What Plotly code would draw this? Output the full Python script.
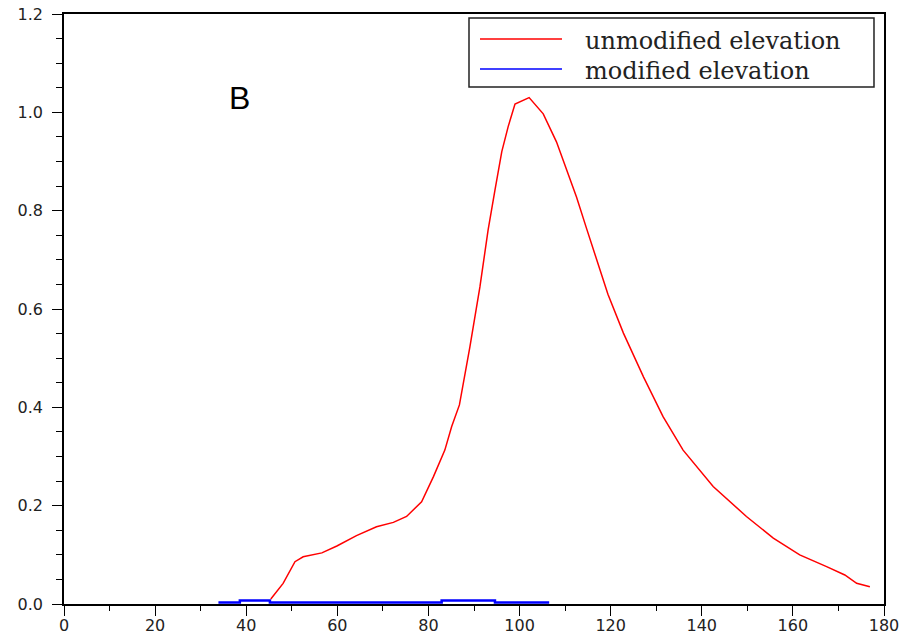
import plotly.graph_objects as go

# Red curve: unmodified elevation
red_x = [45.4, 48.1, 50.7, 52.5, 56.6, 59.9, 64.2, 68.6, 72.3, 75.2, 78.5, 81.1,
         83.6, 85.1, 86.8, 89.1, 91.3, 93.1, 94.6, 96.1, 97.5, 99.0, 102.1, 105.2,
         108.1, 110.3, 112.5, 114.7, 116.9, 119.4, 122.8, 127.2, 131.5, 135.9,
         142.5, 149.8, 155.7, 161.5, 167.4, 171.4, 174.0, 176.9]
red_y = [0.010, 0.042, 0.086, 0.096, 0.104, 0.118, 0.139, 0.157, 0.166, 0.178,
         0.208, 0.259, 0.313, 0.361, 0.405, 0.523, 0.645, 0.761, 0.842, 0.920,
         0.971, 1.017, 1.030, 0.997, 0.940, 0.886, 0.828, 0.764, 0.700, 0.630,
         0.551, 0.462, 0.381, 0.313, 0.239, 0.178, 0.134, 0.100, 0.076, 0.059,
         0.042, 0.035]

# Blue curve: modified elevation (step-like, near zero)
blue_x = [33.9, 38.6, 45.2, 82.9, 94.6, 106.5]
blue_y = [0.003, 0.007, 0.003, 0.007, 0.003, 0.003]

series_names = ["unmodified elevation", "modified elevation"]
series_colors = ["#ff0000", "#0000ff"]
panel_label = "B"

fig = go.Figure()
fig.add_trace(go.Scatter(x=red_x, y=red_y, mode="lines", name=series_names[0],
                         line=dict(color=series_colors[0], width=1.5)))
fig.add_trace(go.Scatter(x=blue_x, y=blue_y, mode="lines", name=series_names[1],
                         line=dict(color=series_colors[1], width=2.5, shape="hv")))

fig.add_annotation(x=38.6, y=1.029, text=panel_label, showarrow=False,
                   font=dict(family="Liberation Sans, Arial, sans-serif", size=32, color="black"),
                   xanchor="center", yanchor="middle")

# Legend box drawn in paper coordinates (framed, as in the original)
fig.add_shape(type="rect", xref="paper", yref="paper",
              x0=0.4939, x1=0.9878, y0=0.8763, y1=0.9932,
              line=dict(color="#222", width=1.5), fillcolor="white", layer="above")
legend_rows_y = [0.9576, 0.9068]
for name, color, ry in zip(series_names, series_colors, legend_rows_y):
    fig.add_shape(type="line", xref="paper", yref="paper",
                  x0=0.5073, x1=0.6073, y0=ry, y1=ry,
                  line=dict(color=color, width=1.5), layer="above")
    fig.add_annotation(xref="paper", yref="paper", x=0.6329, y=ry - 0.004,
                       text=name, showarrow=False, xanchor="left", yanchor="middle",
                       font=dict(family="DejaVu Serif, serif", size=24, color="#222"))

axis_font = dict(family="DejaVu Sans, Verdana, sans-serif", size=16, color="#222")

fig.update_layout(
    width=908, height=636,
    margin=dict(l=64, r=24, t=14, b=32),
    paper_bgcolor="white", plot_bgcolor="white",
    showlegend=False,
    xaxis=dict(
        range=[0, 180], tick0=0, dtick=20, automargin=False,
        showgrid=False, zeroline=False,
        showline=True, linecolor="black", linewidth=1.5, mirror=True,
        ticks="outside", ticklen=10, tickwidth=1, tickcolor="black",
        tickfont=axis_font, ticklabelstandoff=-4,
        minor=dict(dtick=10, ticks="outside", ticklen=5, tickwidth=1, tickcolor="black", showgrid=False),
    ),
    yaxis=dict(
        range=[0, 1.2], tick0=0, dtick=0.2, tickformat=".1f", automargin=False,
        showgrid=False, zeroline=False,
        showline=True, linecolor="black", linewidth=1.5, mirror=True,
        ticks="outside", ticklen=10, tickwidth=1, tickcolor="black",
        tickfont=axis_font, ticklabelstandoff=6,
        minor=dict(dtick=0.05, ticks="outside", ticklen=6, tickwidth=1, tickcolor="black", showgrid=False),
    ),
)

fig.write_html("out.html")
